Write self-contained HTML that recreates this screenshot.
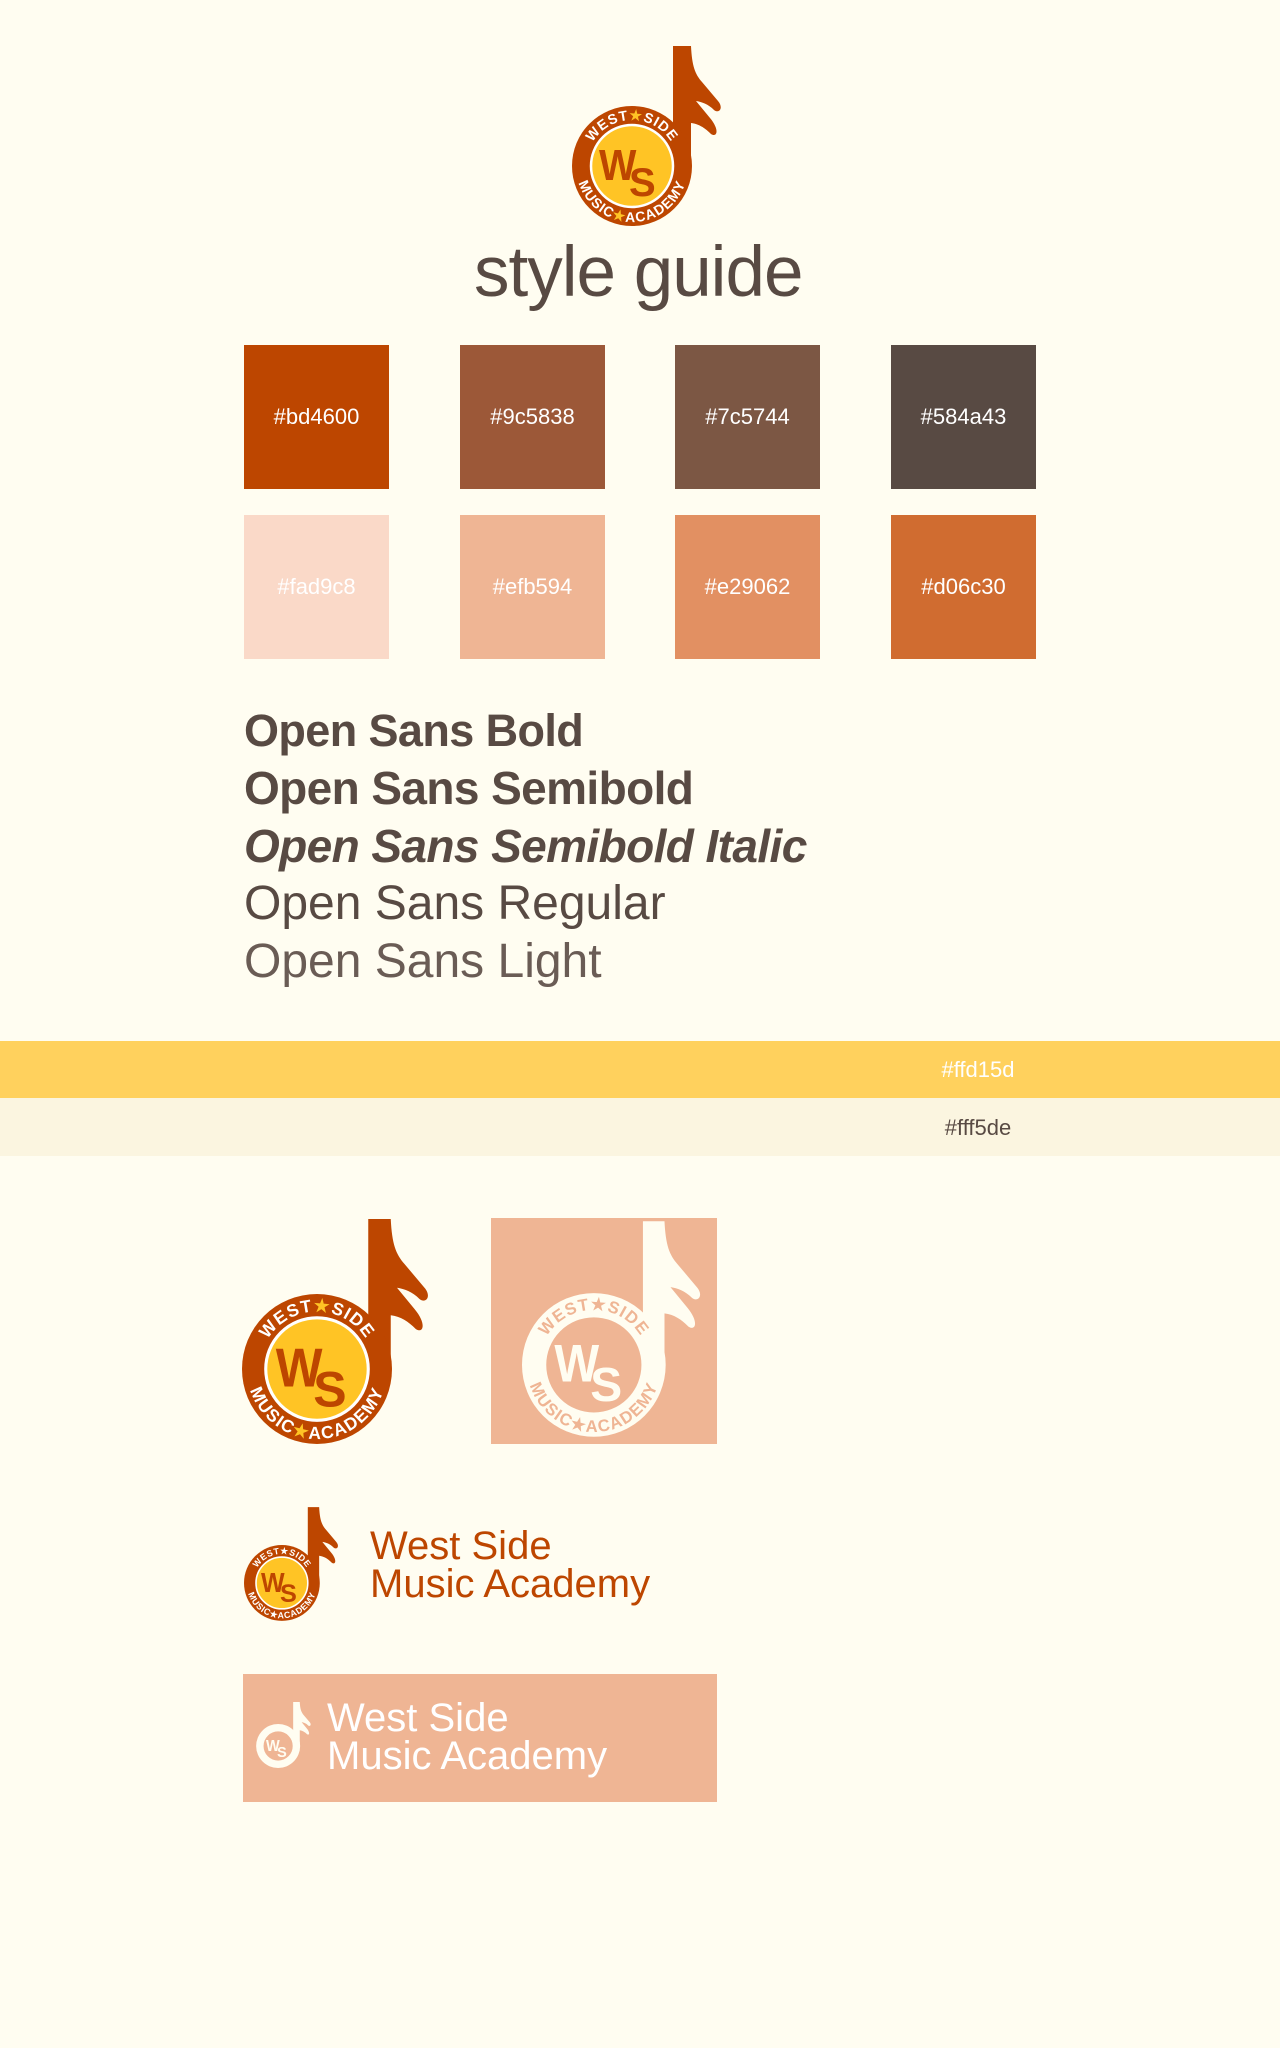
<!DOCTYPE html>
<html><head><meta charset="utf-8"><style>
html,body{margin:0;padding:0}
body{width:1280px;height:2048px;background:#fffdf1;position:relative;overflow:hidden;font-family:"Liberation Sans",sans-serif}
.a{position:absolute}
.sw{position:absolute;width:145px;height:144px;color:#fff;font-size:22px;display:flex;align-items:center;justify-content:center}
.ft{position:absolute;left:244px;font-size:47px;color:#584a43;line-height:1;white-space:nowrap}
.b{font-size:45px;letter-spacing:-0.6px;font-weight:bold}
svg{position:absolute;overflow:visible}
</style></head><body>

<svg width="152" height="180" viewBox="0 0 152 180" style="left:572px;top:46px">
<defs>
<path id="top1" d="M14,120 A46,46 0 0 1 106,120"/>
<path id="bot1" d="M4,120 A56,56 0 0 0 116,120"/>
</defs>
<path d="M101,0 L119,0 C120,20 123,28 130,36 L146,55 C152,62 147,68 142,64 C136,58 130,56 124,55 L138,72 C148,84 145,92 139,88 C133,82 127,78 119,77 L119,120 L101,120 Z" fill="#bd4600"/>
<circle cx="60" cy="120" r="60" fill="#bd4600"/>
<circle cx="60" cy="120" r="41" fill="#ffc425" stroke="#fff" stroke-width="2.5"/>
<text font-family="Liberation Sans" font-weight="bold" font-size="14" fill="#fff" letter-spacing="1"><textPath href="#top1" startOffset="50%" text-anchor="middle">WEST<tspan fill="#ffc425">★</tspan>SIDE</textPath></text>
<text font-family="Liberation Sans" font-weight="bold" font-size="14" fill="#fff" letter-spacing="1"><textPath href="#bot1" startOffset="50%" text-anchor="middle">MUSIC<tspan fill="#ffc425">★</tspan>ACADEMY</textPath></text>
<text x="30" y="134" font-family="Liberation Sans" font-weight="bold" font-size="44" fill="#bd4600" transform="scale(0.9,1)">W</text>
<text x="57" y="150" font-family="Liberation Sans" font-weight="bold" font-size="40" fill="#bd4600">S</text>
</svg>

<div class="a" style="left:474px;top:232px;font-size:71px;color:#584a43;letter-spacing:-1px">style guide</div>

<div class="sw" style="left:244px;top:349px;background:#bd4600;top:345px;padding-top:0">#bd4600</div>
<div class="sw" style="left:460px;top:345px;background:#9c5838">#9c5838</div>
<div class="sw" style="left:675px;top:345px;background:#7c5744">#7c5744</div>
<div class="sw" style="left:891px;top:345px;background:#584a43">#584a43</div>
<div class="sw" style="left:244px;top:515px;background:#fad9c8">#fad9c8</div>
<div class="sw" style="left:460px;top:515px;background:#efb594">#efb594</div>
<div class="sw" style="left:675px;top:515px;background:#e29062">#e29062</div>
<div class="sw" style="left:891px;top:515px;background:#d06c30">#d06c30</div>

<div class="ft b" style="top:708px">Open Sans Bold</div>
<div class="ft b" style="top:765px;font-size:46px">Open Sans Semibold</div>
<div class="ft b" style="top:823px;font-style:italic;font-size:46px">Open Sans Semibold Italic</div>
<div class="ft" style="top:880px;font-size:48px">Open Sans Regular</div>
<div class="ft" style="top:938px;color:#6a5c55;font-size:48px">Open Sans Light</div>

<div class="a" style="left:0;top:1041px;width:1280px;height:57px;background:#ffd15d"></div>
<div class="a" style="left:0;top:1098px;width:1280px;height:58px;background:#fbf5e0"></div>
<div class="a" style="left:900px;top:1057px;width:156px;text-align:center;color:#fff;font-size:22px">#ffd15d</div>
<div class="a" style="left:900px;top:1115px;width:156px;text-align:center;color:#584a43;font-size:22px">#fff5de</div>

<!-- big logo -->
<svg width="190" height="225" viewBox="0 0 152 180" style="left:242px;top:1219px">
<defs>
<path id="top2" d="M14,120 A46,46 0 0 1 106,120"/>
<path id="bot2" d="M4,120 A56,56 0 0 0 116,120"/>
</defs>
<path d="M101,0 L119,0 C120,20 123,28 130,36 L146,55 C152,62 147,68 142,64 C136,58 130,56 124,55 L138,72 C148,84 145,92 139,88 C133,82 127,78 119,77 L119,120 L101,120 Z" fill="#bd4600"/>
<circle cx="60" cy="120" r="60" fill="#bd4600"/>
<circle cx="60" cy="120" r="41" fill="#ffc425" stroke="#fff" stroke-width="2.5"/>
<text font-family="Liberation Sans" font-weight="bold" font-size="14" fill="#fff" letter-spacing="1"><textPath href="#top2" startOffset="50%" text-anchor="middle">WEST<tspan fill="#ffc425">★</tspan>SIDE</textPath></text>
<text font-family="Liberation Sans" font-weight="bold" font-size="14" fill="#fff" letter-spacing="1"><textPath href="#bot2" startOffset="50%" text-anchor="middle">MUSIC<tspan fill="#ffc425">★</tspan>ACADEMY</textPath></text>
<text x="30" y="134" font-family="Liberation Sans" font-weight="bold" font-size="44" fill="#bd4600" transform="scale(0.9,1)">W</text>
<text x="57" y="150" font-family="Liberation Sans" font-weight="bold" font-size="40" fill="#bd4600">S</text>
</svg>

<div class="a" style="left:491px;top:1218px;width:226px;height:226px;background:#efb594"></div>
<svg width="182" height="216" viewBox="0 0 152 180" style="left:522px;top:1221px">
<defs>
<path id="top3" d="M14,120 A46,46 0 0 1 106,120"/>
<path id="bot3" d="M4,120 A56,56 0 0 0 116,120"/>
</defs>
<path d="M101,0 L119,0 C120,20 123,28 130,36 L146,55 C152,62 147,68 142,64 C136,58 130,56 124,55 L138,72 C148,84 145,92 139,88 C133,82 127,78 119,77 L119,120 L101,120 Z" fill="#fffdf1"/>
<circle cx="60" cy="120" r="60" fill="#fffdf1"/>
<circle cx="60" cy="120" r="41" fill="#efb594" stroke="#fffdf1" stroke-width="2.5"/>
<text font-family="Liberation Sans" font-weight="bold" font-size="14" fill="#efb594" letter-spacing="1"><textPath href="#top3" startOffset="50%" text-anchor="middle">WEST★SIDE</textPath></text>
<text font-family="Liberation Sans" font-weight="bold" font-size="14" fill="#efb594" letter-spacing="1"><textPath href="#bot3" startOffset="50%" text-anchor="middle">MUSIC★ACADEMY</textPath></text>
<text x="30" y="134" font-family="Liberation Sans" font-weight="bold" font-size="44" fill="#fffdf1" transform="scale(0.9,1)">W</text>
<text x="57" y="150" font-family="Liberation Sans" font-weight="bold" font-size="40" fill="#fffdf1">S</text>
</svg>

<!-- small logo -->
<svg width="96" height="114" viewBox="0 0 152 180" style="left:244px;top:1507px">
<defs>
<path id="top4" d="M14,120 A46,46 0 0 1 106,120"/>
<path id="bot4" d="M4,120 A56,56 0 0 0 116,120"/>
</defs>
<path d="M101,0 L119,0 C120,20 123,28 130,36 L146,55 C152,62 147,68 142,64 C136,58 130,56 124,55 L138,72 C148,84 145,92 139,88 C133,82 127,78 119,77 L119,120 L101,120 Z" fill="#bd4600"/>
<circle cx="60" cy="120" r="60" fill="#bd4600"/>
<circle cx="60" cy="120" r="41" fill="#ffc425" stroke="#fff" stroke-width="2.5"/>
<text font-family="Liberation Sans" font-weight="bold" font-size="14" fill="#fff" letter-spacing="1"><textPath href="#top4" startOffset="50%" text-anchor="middle">WEST★SIDE</textPath></text>
<text font-family="Liberation Sans" font-weight="bold" font-size="14" fill="#fff" letter-spacing="1"><textPath href="#bot4" startOffset="50%" text-anchor="middle">MUSIC★ACADEMY</textPath></text>
<text x="30" y="134" font-family="Liberation Sans" font-weight="bold" font-size="44" fill="#bd4600" transform="scale(0.9,1)">W</text>
<text x="57" y="150" font-family="Liberation Sans" font-weight="bold" font-size="40" fill="#bd4600">S</text>
</svg>
<div class="a" style="left:370px;top:1527px;font-size:40px;line-height:38px;color:#bd4600">West Side<br>Music Academy</div>

<div class="a" style="left:243px;top:1674px;width:474px;height:128px;background:#efb594"></div>
<svg width="56" height="66" viewBox="0 0 152 180" style="left:256px;top:1702px">
<path d="M101,0 L119,0 C120,20 123,28 130,36 L146,55 C152,62 147,68 142,64 C136,58 130,56 124,55 L138,72 C148,84 145,92 139,88 C133,82 127,78 119,77 L119,120 L101,120 Z" fill="#fffdf1"/>
<circle cx="60" cy="120" r="60" fill="#fffdf1"/>
<circle cx="60" cy="120" r="41" fill="#efb594" stroke="#fffdf1" stroke-width="2.5"/>
<text x="30" y="134" font-family="Liberation Sans" font-weight="bold" font-size="44" fill="#fffdf1" transform="scale(0.9,1)">W</text>
<text x="57" y="150" font-family="Liberation Sans" font-weight="bold" font-size="40" fill="#fffdf1">S</text>
</svg>
<div class="a" style="left:327px;top:1699px;font-size:40px;line-height:38px;color:#fff">West Side<br>Music Academy</div>

</body></html>
